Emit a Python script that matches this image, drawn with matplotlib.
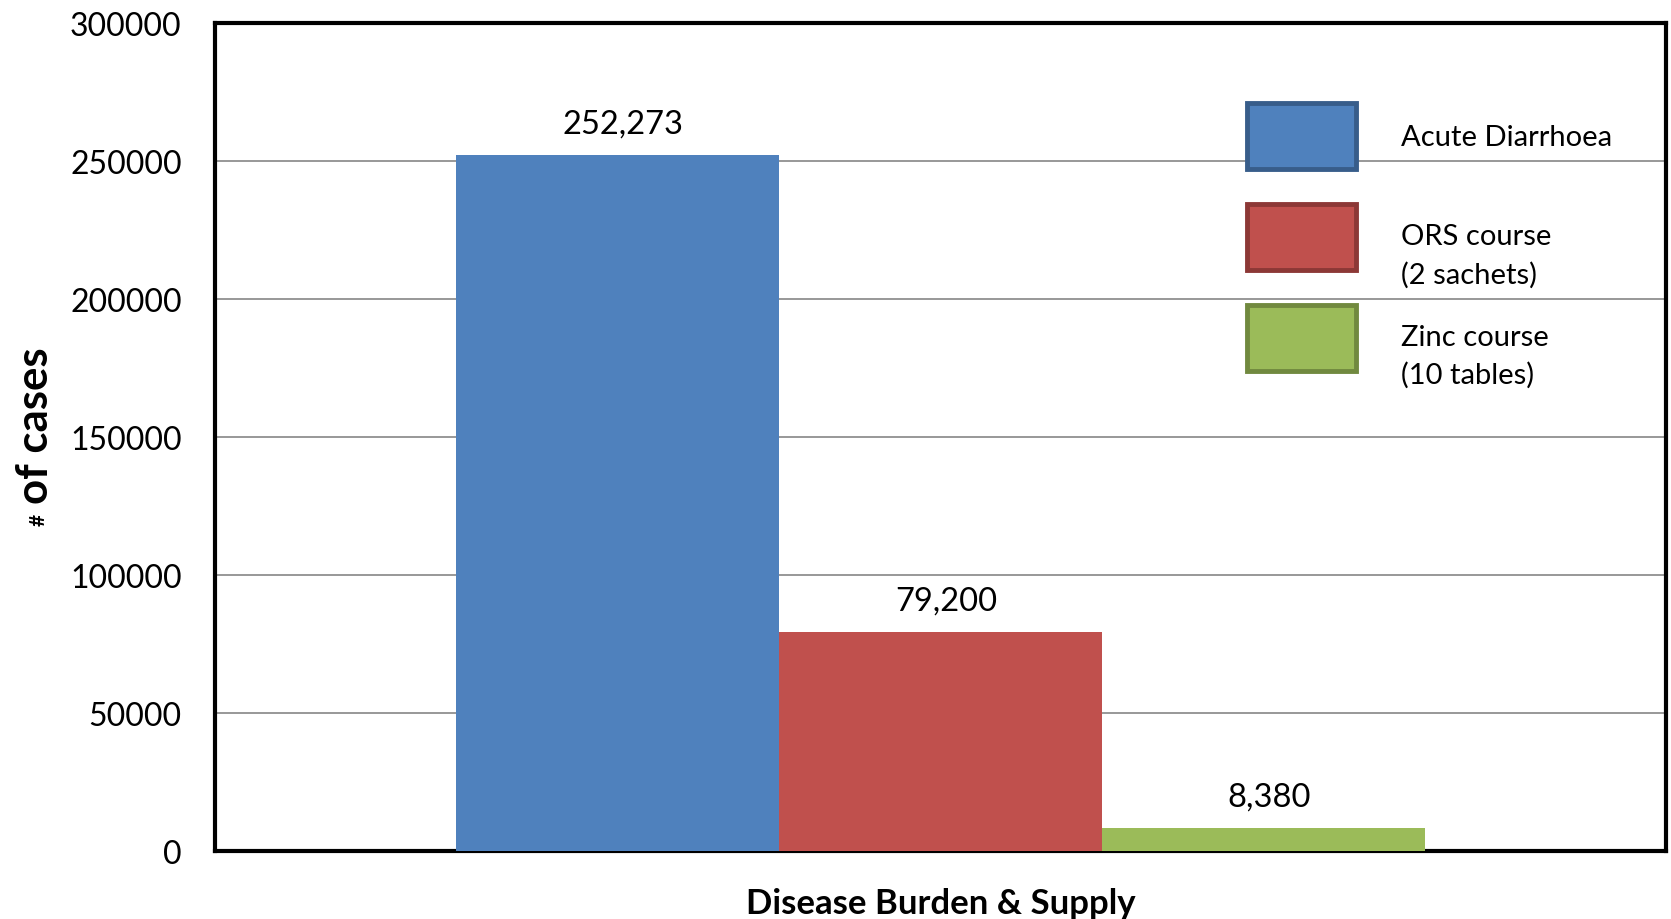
import matplotlib
matplotlib.use("Agg")
import matplotlib.pyplot as plt
import matplotlib.transforms as mtransforms
import numpy as np

plt.rcParams['font.family'] = ['Lato', 'DejaVu Sans']

category = ["Disease Burden & Supply"]
series = ["Acute Diarrhoea", "ORS course\n(2 sachets)", "Zinc course\n(10 tables)"]
values = [252273, 79200, 8380]
value_labels = ["252,273", "79,200", "8,380"]
colors = ["#4F81BD", "#C0504D", "#9BBB59"]
edges = ["#385D8A", "#8C3836", "#71893F"]
yticks = [0, 50000, 100000, 150000, 200000, 250000, 300000]

fig = plt.figure(figsize=(16.71, 9.2), dpi=100)
ax = fig.add_axes([0.1287, 0.0739, 0.8683, 0.9000])

bw = 0.2227
xs = (np.arange(len(values)) - 1) * bw
handles = []
for x, v, c, e, s, lab in zip(xs, values, colors, edges, series, value_labels):
    ax.bar(x, v, width=bw, color=c, edgecolor='none', label=s, zorder=3)
    ax.text(x + 0.004, v + 6000, lab, ha='center', va='bottom', fontsize=23.5, zorder=4)
    handles.append(plt.Rectangle((0, 0), 1, 1, facecolor=c, edgecolor=e, linewidth=3.5))

ax.set_xlim(-0.5, 0.5)
ax.set_ylim(0, 300000)
ax.set_yticks(yticks)
ax.set_yticklabels([str(t) for t in yticks], fontsize=23)
ax.set_xticks([])
ax.tick_params(axis='y', length=0, pad=24)
ax.yaxis.grid(True, color='#868686', linewidth=1.2, zorder=0)
ax.set_axisbelow(True)
for sp in ax.spines.values():
    sp.set_linewidth(3)
    sp.set_color('black')

ax.set_xlabel(category[0], fontsize=25, fontweight='bold', labelpad=26)

fig.text(0.021, 0.537, "of cases", rotation=90, fontsize=31.5, fontweight='bold',
         ha='center', va='center')
fig.text(0.023, 0.435, "#", rotation=90, fontsize=15, fontweight='bold',
         ha='center', va='center')

leg = ax.legend(handles, series, loc='upper left', bbox_to_anchor=(0.711, 0.903),
                frameon=False, fontsize=21, handlelength=3.75, handleheight=3.1,
                handletextpad=1.55, labelspacing=1.15, borderpad=0, borderaxespad=0)
for t in leg.get_texts():
    t.set_linespacing(1.53)
    if "\n" in t.get_text():
        shift = mtransforms.ScaledTranslation(0, -0.2, fig.dpi_scale_trans)
        t.set_transform(t.get_transform() + shift)

fig.savefig("out.png", dpi=100)
